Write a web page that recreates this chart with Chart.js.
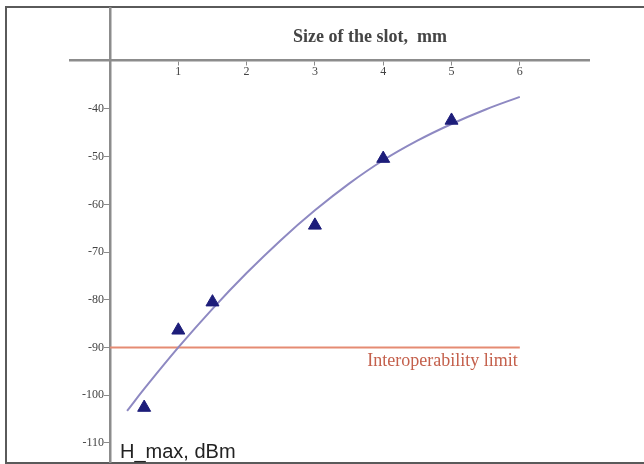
<!DOCTYPE html>
<html>
<head>
<meta charset="utf-8">
<script src="https://cdn.jsdelivr.net/npm/chart.js@4/dist/chart.umd.min.js"></script>
<style>
  html, body { margin: 0; padding: 0; background: #fff; overflow: hidden; }
  #frame {
    position: absolute; left: 5px; top: 6px; width: 700px; height: 454px;
    border: 2px solid #5a5a5a; border-right: none;
  }
  #myChart { position: absolute; left: 0; top: 0; }
</style>
</head>
<body>
<div id="frame"></div>
<canvas id="myChart" width="644" height="471"></canvas>
<script>
// measured points (triangles)
const slotSizes = [0.5, 1, 1.5, 3, 4, 5];
const hMax = [-102.6, -86.4, -80.5, -64.4, -50.4, -42.4];

// fitted curve
const fitX = [0.25, 0.5, 1, 1.5, 2, 2.5, 3, 3.5, 4, 4.5, 5, 5.5, 6];
const fitY = [-103.3, -98.7, -90, -81.9, -74.4, -67.5, -61.25, -55.65, -50.75, -46.65, -43.15, -40.1, -37.45];

// interoperability limit
const limitX = [0, 6];
const limitY = [-90, -90];

const xTicks = [1, 2, 3, 4, 5, 6];
const yTicks = [-40, -50, -60, -70, -80, -90, -100, -110];

const toPts = (xs, ys) => xs.map((x, i) => ({ x: x, y: ys[i] }));

const labelsPlugin = {
  id: 'labels',
  afterDatasetsDraw(chart) {
    const { ctx, scales: { x, y } } = chart;
    ctx.save();
    ctx.textBaseline = 'middle';
    ctx.textAlign = 'center';
    ctx.fillStyle = '#454545';
    ctx.font = 'bold 18px "Liberation Serif", serif';
    ctx.fillText('Size of the slot,  mm', 370, 37.5);

    ctx.textBaseline = 'alphabetic';
    ctx.textAlign = 'right';
    ctx.fillStyle = '#c4604c';
    ctx.font = '18px "Liberation Serif", serif';
    ctx.fillText('Interoperability limit', x.getPixelForValue(6) - 2, y.getPixelForValue(-90) + 18.5);

    ctx.textAlign = 'left';
    ctx.fillStyle = '#222';
    ctx.font = '20px "Liberation Sans", Arial, sans-serif';
    ctx.fillText('H_max, dBm', 120, 458);
    ctx.restore();
  }
};

const ctx = document.getElementById('myChart').getContext('2d');

new Chart(ctx, {
  type: 'scatter',
  data: {
    datasets: [{
      label: 'Measured',
      data: toPts(slotSizes, hMax),
      pointStyle: 'triangle',
      pointRadius: 7.5,
      pointBackgroundColor: '#1d1d7a',
      pointBorderColor: '#1d1d7a',
      pointBorderWidth: 1,
      showLine: false
    }, {
      label: 'Fit',
      data: toPts(fitX, fitY),
      showLine: true,
      borderColor: '#8e89c2',
      borderWidth: 2,
      pointRadius: 0,
      tension: 0.4
    }, {
      label: 'Limit',
      data: toPts(limitX, limitY),
      showLine: true,
      borderColor: '#e58b73',
      borderWidth: 2,
      pointRadius: 0
    }]
  },
  options: {
    responsive: false,
    animation: false,
    devicePixelRatio: 1,
    layout: { padding: { left: 70, right: 55, top: 8, bottom: 1 } },
    plugins: {
      legend: { display: false },
      tooltip: { enabled: false }
    },
    scales: {
      x: {
        type: 'linear',
        position: { y: -29.8 },
        min: -0.586,
        max: 7.013,
        afterBuildTicks: s => { s.ticks = xTicks.map(v => ({ value: v })); },
        afterFit: s => { s.paddingLeft = 0; s.paddingRight = 0; },
        border: { color: '#8c8c8c', width: 2.5 },
        grid: { drawOnChartArea: false, drawTicks: true, tickLength: 4, color: '#8c8c8c' },
        ticks: {
          padding: 0,
          color: '#444',
          font: { family: '"Liberation Serif", serif', size: 12 }
        }
      },
      y: {
        type: 'linear',
        position: { x: 0 },
        min: -114.12,
        max: -18.93,
        afterBuildTicks: s => { s.ticks = yTicks.map(v => ({ value: v })); },
        afterFit: s => { s.paddingTop = 0; s.paddingBottom = 0; },
        border: { color: '#8c8c8c', width: 2.5 },
        grid: { drawOnChartArea: false, drawTicks: true, tickLength: 5, color: '#8c8c8c' },
        ticks: {
          padding: 1,
          color: '#444',
          font: { family: '"Liberation Serif", serif', size: 12 },
          callback: v => v + '\u2002'
        }
      }
    }
  },
  plugins: [labelsPlugin]
});
</script>
</body>
</html>
